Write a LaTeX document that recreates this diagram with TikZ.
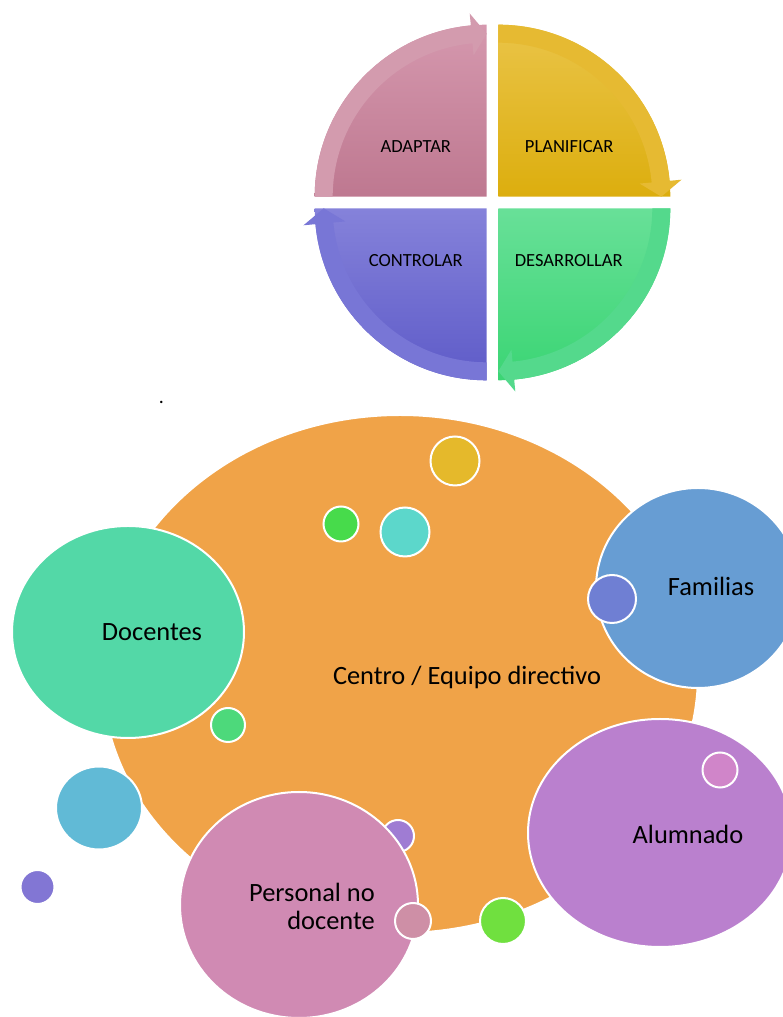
\documentclass[tikz,border=0pt]{standalone}
\usepackage{fontspec}
\setmainfont{Carlito}

% cycle colours
\definecolor{adaptTop}{HTML}{D598AE}
\definecolor{adaptMid}{HTML}{CD8AA3}
\definecolor{adaptBot}{HTML}{BE7890}
\definecolor{adaptBand}{HTML}{D39BAE}
\definecolor{planTop}{HTML}{EAC448}
\definecolor{planMid}{HTML}{F0C020}
\definecolor{planBot}{HTML}{DCAE0E}
\definecolor{planBand}{HTML}{E6BA32}
\definecolor{desTop}{HTML}{68E098}
\definecolor{desMid}{HTML}{4ADF88}
\definecolor{desBot}{HTML}{3BD574}
\definecolor{desBand}{HTML}{54D98C}
\definecolor{ctrlTop}{HTML}{8582DA}
\definecolor{ctrlMid}{HTML}{7471D4}
\definecolor{ctrlBot}{HTML}{5E5BC8}
\definecolor{ctrlBand}{HTML}{7876D6}
% bubble colours
\definecolor{centro}{HTML}{F0A348}
\definecolor{docentes}{HTML}{53D8A7}
\definecolor{familias}{HTML}{679DD3}
\definecolor{alumnado}{HTML}{BA80CE}
\definecolor{personal}{HTML}{D08AB3}
\definecolor{bAmarillo}{HTML}{E5B92B}
\definecolor{bVerde}{HTML}{47DB4B}
\definecolor{bTurquesa}{HTML}{5CD7CB}
\definecolor{bAzul}{HTML}{6F7FD3}
\definecolor{bVerdeDos}{HTML}{4DD97B}
\definecolor{bCeleste}{HTML}{61BAD6}
\definecolor{bLila}{HTML}{8276D4}
\definecolor{bMorado}{HTML}{9F7CD3}
\definecolor{bRosado}{HTML}{CE8FA6}
\definecolor{bLima}{HTML}{70E03F}
\definecolor{bRosa}{HTML}{D085C9}

\begin{document}
\begin{tikzpicture}[x=0.75pt, y=0.75pt,
    bubble/.style={draw=white, line width=1.5pt},
    cyclabel/.style={anchor=base, font=\fontsize{13.9}{16}\selectfont},
    bublabel/.style={anchor=base, font=\fontsize{19.8}{21.2}\selectfont}]
    \useasboundingbox (0,0) rectangle (782,1017);
    % cycle: quarter disks with a curved arrow on the rim
    \foreach \cx/\cy/\a/\ctop/\cmid/\cbot/\cband in {486.7/820.3/180/adaptTop/adaptMid/adaptBot/adaptBand,
        498.3/820.3/90/planTop/planMid/planBot/planBand,
        498.3/808.7/0/desTop/desMid/desBot/desBand,
        486.7/808.7/270/ctrlTop/ctrlMid/ctrlBot/ctrlBand} {
        \begin{scope}[shift={(\cx,\cy)}]
            \shade[top color=\ctop, middle color=\cmid, bottom color=\cbot] (0,0) -- (\a:172)
                arc[start angle=\a, end angle=\a-90, radius=172] -- cycle;
            \fill[\cband] (\a:172) arc[start angle=\a, end angle=\a-84.7, radius=172]
                -- ({\a-84.7}:184) -- ({\a-90}:163) -- ({\a-84.7}:142) -- ({\a-84.7}:154)
                arc[start angle=\a-84.7, end angle=\a, radius=154] -- cycle;
        \end{scope}
    }
    \node[cyclabel] (adaptar) at (415.8,864.3) {ADAPTAR};
    \node[cyclabel] (planificar) at (569.2,864.3) {PLANIFICAR};
    \node[cyclabel] (controlar) at (415.8,750.3) {CONTROLAR};
    \node[cyclabel] (desarrollar) at (568.8,750.3) {DESARROLLAR};
    \node[anchor=base, font=\fontsize{15}{17}\selectfont] (punto) at (161.5,613.5) {.};
    % bubbles
    \path[bubble, fill=centro] (400,343) ellipse [x radius=298, y radius=259];
    \path[bubble, fill=bAmarillo] (455,556) circle (24.5);
    \path[bubble, fill=bVerde] (341,493) circle (17.5);
    \path[bubble, fill=bTurquesa] (405,485) circle (24.5);
    \path[bubble, fill=docentes] (128,385) ellipse [x radius=116, y radius=106];
    \path[bubble, fill=bVerdeDos] (228,292) circle (17);
    \path[bubble, fill=familias] (698,429) ellipse [x radius=102, y radius=100];
    \path[bubble, fill=bAzul] (612,418) circle (24);
    \path[bubble, fill=alumnado] (660,184) ellipse [x radius=132, y radius=114];
    \path[bubble, fill=bRosa] (720,247) circle (17.5);
    \path[bubble, fill=bLima] (503,96) circle (23);
    \path[bubble, fill=bCeleste] (99,209) ellipse [x radius=43, y radius=41.5];
    \path[bubble, fill=bLila] (37.5,130) circle (17);
    \path[bubble, fill=bMorado] (398,181) circle (16);
    \path[bubble, fill=personal] (299,112) ellipse [x radius=119, y radius=113];
    \path[bubble, fill=bRosado] (413,96) circle (18);
    % labels
    \node[bublabel] (centroLbl) at (467,332.7) {Centro / Equipo directivo};
    \node[bublabel] (docentesLbl) at (152,376.5) {Docentes};
    \node[bublabel] (familiasLbl) at (711,421) {Familias};
    \node[bublabel] (alumnadoLbl) at (688,173.7) {Alumnado};
    \node[bublabel, anchor=base east, align=right, inner sep=0pt] (personalLbl) at (375,87.7) {Personal no\\docente};
\end{tikzpicture}
\end{document}
